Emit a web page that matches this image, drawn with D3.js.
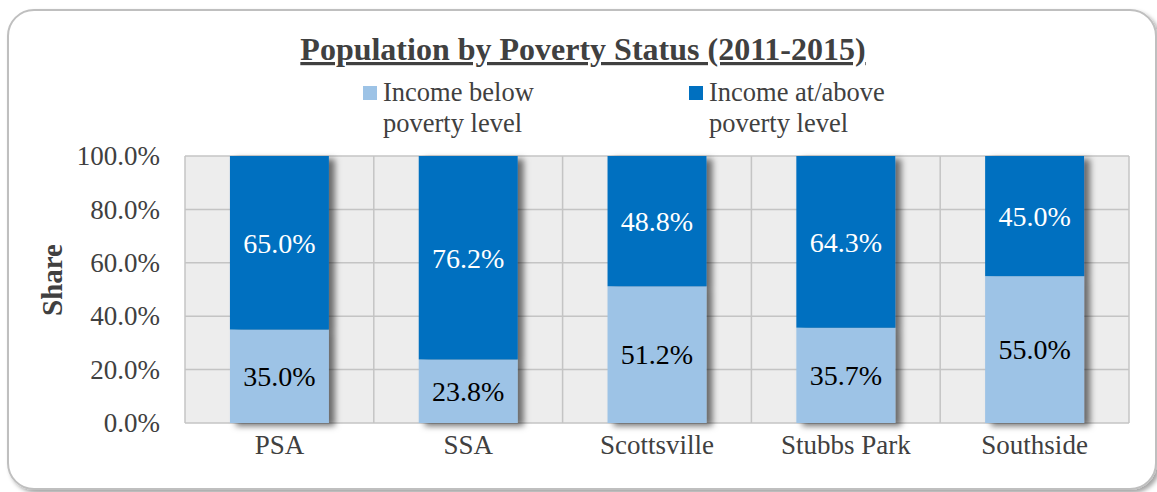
<!DOCTYPE html>
<html>
<head>
<meta charset="utf-8">
<script src="https://cdn.jsdelivr.net/npm/d3@7"></script>
<style>
  body { margin: 0; background: #fff; }
  svg text { font-family: "Liberation Serif", "Times New Roman", serif; fill: #404040; }
</style>
</head>
<body>
<div id="chart"></div>
<script>
var svgWidth = 1157;
var svgHeight = 492;
var fontFam = "'Liberation Serif', 'Times New Roman', serif";

// data
var categories = ["PSA", "SSA", "Scottsville", "Stubbs Park", "Southside"];
var belowPoverty = [35.0, 23.8, 51.2, 35.7, 55.0];
var abovePoverty = [65.0, 76.2, 48.8, 64.3, 45.0];
var seriesNames = ["Income below|poverty level", "Income at/above|poverty level"];
var yTicks = [0, 20, 40, 60, 80, 100];

var colors = ["#9DC3E6", "#0070C0"];

var margin = { top: 156, right: 28, bottom: 69, left: 185 };
var width = svgWidth - margin.left - margin.right;
var height = svgHeight - margin.top - margin.bottom;

var svg = d3.select("#chart")
  .append("svg")
  .attr("width", svgWidth)
  .attr("height", svgHeight);

var defs = svg.append("defs");
var shadow = defs.append("filter")
  .attr("id", "barShadow")
  .attr("x", "-20%").attr("y", "-20%")
  .attr("width", "150%").attr("height", "150%");
shadow.append("feDropShadow")
  .attr("dx", 6).attr("dy", 3)
  .attr("stdDeviation", 3)
  .attr("flood-color", "#000")
  .attr("flood-opacity", 0.55);

var boxShadow = defs.append("filter")
  .attr("id", "boxShadow")
  .attr("x", "-5%").attr("y", "-5%")
  .attr("width", "110%").attr("height", "110%");
boxShadow.append("feDropShadow")
  .attr("dx", 3).attr("dy", 3)
  .attr("stdDeviation", 2)
  .attr("flood-color", "#000")
  .attr("flood-opacity", 0.35);

// outer rounded frame
svg.append("rect")
  .attr("x", 8)
  .attr("y", 10)
  .attr("width", 1148)
  .attr("height", 479)
  .attr("rx", 26)
  .attr("fill", "#fff")
  .attr("stroke", "#BFBFBF")
  .attr("stroke-width", 2)
  .attr("filter", "url(#boxShadow)");

// title
svg.append("text")
  .attr("x", 583)
  .attr("y", 60)
  .attr("text-anchor", "middle")
  .attr("font-family", fontFam)
  .attr("font-size", 32)
  .attr("font-weight", "bold")
  .style("text-decoration", "underline")
  .text("Population by Poverty Status (2011-2015)");

// legend
var legendPos = [363, 689];
seriesNames.forEach(function (name, i) {
  var g = svg.append("g").attr("transform", `translate(${legendPos[i]}, 86)`);
  g.append("rect")
    .attr("width", 14).attr("height", 14)
    .attr("fill", colors[i]);
  name.split("|").forEach(function (line, j) {
    g.append("text")
      .attr("x", 20)
      .attr("y", 15 + j * 31)
      .attr("font-family", fontFam)
      .attr("font-size", 26.5)
      .text(line);
  });
});

var chartGroup = svg.append("g")
  .attr("transform", `translate(${margin.left}, ${margin.top})`);

var xScale = d3.scaleBand()
  .domain(categories)
  .range([0, width])
  .paddingInner(0.476)
  .paddingOuter(0.238);

var yScale = d3.scaleLinear()
  .domain([0, 100])
  .range([height, 0]);

// plot background
chartGroup.append("rect")
  .attr("width", width)
  .attr("height", height)
  .attr("fill", "#EDEDED");

// horizontal grid
chartGroup.append("g")
  .selectAll("line")
  .data(yTicks)
  .enter()
  .append("line")
  .attr("x1", 0).attr("x2", width)
  .attr("y1", d => yScale(d)).attr("y2", d => yScale(d))
  .attr("stroke", "#C4C4C4")
  .attr("stroke-width", 1.5);

// vertical grid at category edges
var step = xScale.step();
var edges = categories.map(c => xScale(c) - (step - xScale.bandwidth()) / 2);
edges.push(width);
chartGroup.append("g")
  .selectAll("line")
  .data(edges)
  .enter()
  .append("line")
  .attr("x1", d => d).attr("x2", d => d)
  .attr("y1", 0).attr("y2", height)
  .attr("stroke", "#C4C4C4")
  .attr("stroke-width", 1.5);

// stacked bars
var rows = categories.map(function (c, i) {
  return { cat: c, below: belowPoverty[i], above: abovePoverty[i] };
});
var stacked = d3.stack().keys(["below", "above"])(rows);

chartGroup.selectAll(".bar")
  .data(rows)
  .enter()
  .append("g")
  .attr("class", "bar")
  .attr("filter", "url(#barShadow)")
  .each(function (d, i) {
    var g = d3.select(this);
    stacked.forEach(function (layer, k) {
      var seg = layer[i];
      g.append("rect")
        .attr("x", xScale(d.cat))
        .attr("y", yScale(seg[1]))
        .attr("width", xScale.bandwidth())
        .attr("height", yScale(seg[0]) - yScale(seg[1]))
        .attr("fill", colors[k]);
    });
  });

// data labels
stacked.forEach(function (layer, k) {
  chartGroup.append("g")
    .selectAll("text")
    .data(layer)
    .enter()
    .append("text")
    .attr("x", d => xScale(d.data.cat) + xScale.bandwidth() / 2)
    .attr("y", d => (yScale(d[0]) + yScale(d[1])) / 2)
    .attr("dy", "0.35em")
    .attr("text-anchor", "middle")
    .attr("font-family", fontFam)
    .attr("font-size", 28)
    .style("fill", k === 0 ? "#000" : "#fff")
    .text(d => (d[1] - d[0]).toFixed(1) + "%");
});

// axes
var leftAxis = d3.axisLeft(yScale)
  .tickValues(yTicks)
  .tickSize(0)
  .tickPadding(25)
  .tickFormat(d => d.toFixed(1) + "%");

var yAxis = chartGroup.append("g").call(leftAxis)
  .attr("font-family", fontFam);
yAxis.select(".domain").remove();
yAxis.selectAll("text")
  .attr("font-size", 27)
  .style("fill", "#404040");

var bottomAxis = d3.axisBottom(xScale).tickSize(0).tickPadding(12);
var xAxis = chartGroup.append("g")
  .attr("transform", `translate(0, ${height})`)
  .call(bottomAxis)
  .attr("font-family", fontFam);
xAxis.select(".domain").remove();
xAxis.selectAll("text")
  .attr("font-size", 27)
  .style("fill", "#404040");

// y axis title
chartGroup.append("text")
  .attr("transform", "rotate(-90)")
  .attr("x", 0 - 124)
  .attr("y", 0 - margin.left + 62)
  .attr("text-anchor", "middle")
  .attr("font-family", fontFam)
  .attr("font-size", 29)
  .attr("font-weight", "bold")
  .text("Share");
</script>
</body>
</html>
